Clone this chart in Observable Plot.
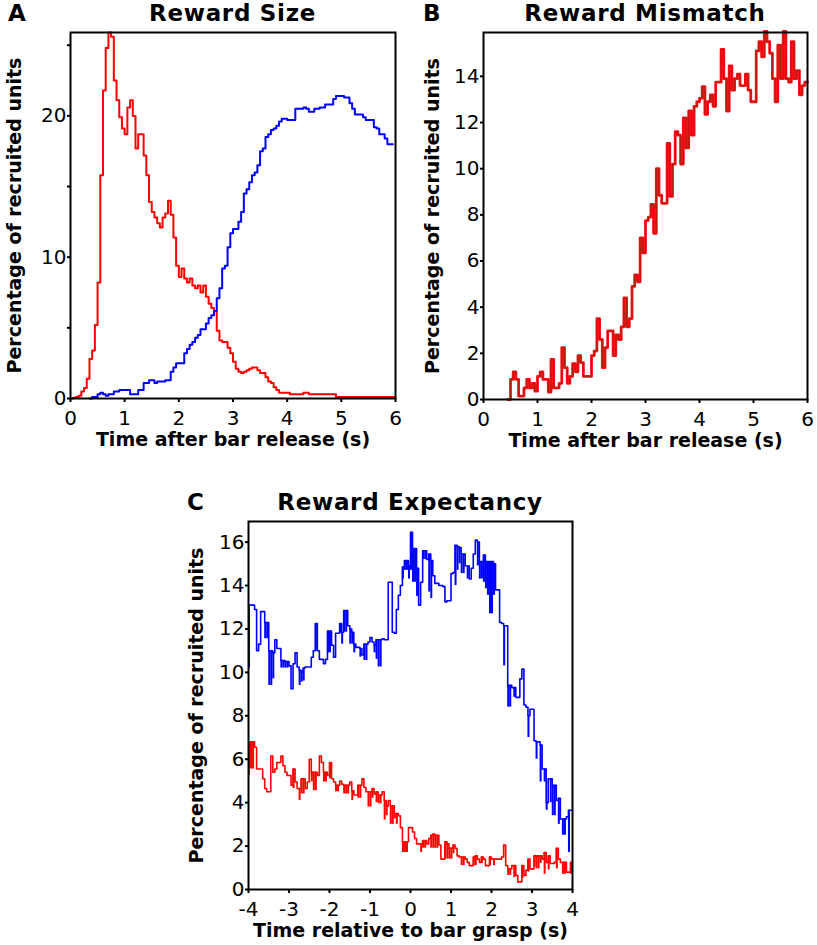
<!DOCTYPE html>
<html>
<head>
<meta charset="utf-8">
<script src="https://cdn.jsdelivr.net/npm/d3@7"></script>
<script src="https://cdn.jsdelivr.net/npm/@observablehq/plot@0.6"></script>
<style>
  html, body { margin: 0; padding: 0; background: #fff; }
  #wrap { position: relative; width: 817px; height: 945px; overflow: hidden; font-family: "DejaVu Sans", sans-serif; }
  .panel { position: absolute; }
  .title { position: absolute; font-weight: bold; font-size: 23px; letter-spacing: 0.7px; line-height: 1; text-align: center; color: #000; white-space: nowrap; }
  .letter { position: absolute; font-weight: bold; font-size: 23px; line-height: 1; color: #000; }
</style>
</head>
<body>
<div id="wrap"></div>
<script>
// ---------------- DATA ----------------
const binWidthAB = 0.05;   // s
const binWidthC = 0.05;    // s

// Panel A: Reward Size (bins from 0 s)
const redA = [0.0,0.05,0.1,0.2,0.5,0.75,1.4,2.8,3.4,5.2,
  8.2,15.8,21.8,24.8,25.9,25.6,22.5,21.1,19.9,19.1,
  18.7,20.6,21.1,20.0,17.7,18.7,18.7,17.2,15.8,13.9,
  13.2,12.8,12.4,12.1,12.8,13.1,14.0,13.0,11.4,9.4,
  8.6,9.2,8.5,8.2,8.5,8.0,7.8,8.0,7.5,8.0,
  7.2,6.7,6.4,6.2,4.8,4.1,4.0,4.0,3.6,3.2,
  2.6,2.1,1.9,1.8,1.9,2.0,2.1,2.2,2.2,2.0,
  1.8,1.8,1.5,1.2,1.1,0.8,0.6,0.4,0.4,0.4,
  0.4,0.3,0.3,0.3,0.3,0.3,0.4,0.4,0.3,0.3,
  0.3,0.3,0.3,0.3,0.3,0.3,0.3,0.3,0.1,0.1,
  0.1,0.1,0.1,0.1,0.1,0.1,0.1,0.1,0.1,0.1,
  0.1,0.1,0.1,0.1,0.1,0.1,0.1,0.1,0.1,0.1];
const blueAStart = 0.35;   // s, first blue bin
const blueA = [0.0,0.1,0.1,
  0.3,0.4,0.3,0.2,0.3,0.3,0.5,0.5,0.6,0.6,
  0.6,0.6,0.3,0.3,0.3,0.6,0.6,1.1,1.1,1.3,
  1.3,1.1,1.2,1.2,1.2,1.3,1.3,1.9,2.2,2.5,
  2.5,2.5,3.2,3.5,3.8,4.0,4.3,4.5,4.9,4.9,
  5.3,5.7,5.9,6.2,7.1,7.8,9.2,9.4,10.7,11.7,
  12.0,12.0,12.5,13.2,14.5,14.8,15.3,15.8,16.0,16.5,
  17.5,17.7,18.5,18.7,19.0,19.1,19.3,19.6,19.8,19.8,
  19.7,19.7,19.7,20.5,20.5,20.5,20.6,20.5,20.3,20.3,
  20.5,20.5,20.6,20.6,20.8,20.8,20.8,21.2,21.4,21.4,
  21.4,21.3,21.3,20.9,20.5,20.1,20.1,20.1,19.9,19.7,
  19.7,19.7,19.2,19.1,18.7,18.7,18.4,18.0,18.0];

// Panel B: Reward Mismatch (bins from 0.45 s)
const redBStart = 0.45;
const redB = [0,
  0.87,1.2,0.87,0.15,0.15,0.5,0.87,0.5,0.7,0.36,
  1.0,1.2,0.87,0.87,0.32,1.74,0.5,0.5,0.7,2.25,
  1.38,0.7,1.0,1.55,1.2,1.9,1.6,1.0,1.0,1.0,
  1.9,2.1,3.5,2.6,1.38,2.25,2.97,2.97,1.9,2.8,
  2.6,3.15,4.4,3.15,3.5,4.9,5.4,5.1,7.0,6.35,
  7.75,7.9,8.45,7.2,10.0,8.85,8.5,8.5,11.1,8.8,
  10.2,11.6,11.45,10.2,12.2,10.9,12.5,11.45,12.7,12.9,
  13.05,13.55,12.35,12.9,13.2,12.7,13.75,13.75,15.17,13.9,
  12.5,14.45,13.4,13.9,14.1,13.6,13.6,14.1,13.4,12.9,
  12.9,15.1,15.5,14.85,15.95,15.5,15.0,13.9,12.9,15.35,
  13.9,15.95,13.9,13.75,15.5,13.9,14.25,13.2,13.6,13.75];

// Panel C: Reward Expectancy (bins from -4 s). *Lo = lower edge where the trace
// oscillates too fast to resolve (null = single level)
const cStart = -4;
const blueC = [13.1,13.1,13.1,12.9,11.0,11.3,12.8,12.8,12.3,12.3,
  11.0,11.0,10.9,11.5,11.1,11.1,10.55,10.55,10.5,10.5,
  10.3,9.25,10.4,10.9,10.25,10.1,10.0,10.2,10.25,10.25,
  10.25,10.7,11.0,12.25,11.0,10.6,10.6,10.4,10.6,11.9,
  11.9,11.25,10.7,11.8,11.8,12.25,11.85,12.85,12.85,12.15,
  12.0,11.85,11.3,11.15,11.15,11.1,10.8,11.3,11.3,11.4,
  11.6,11.4,11.25,11.5,11.5,11.5,11.55,11.5,11.5,14.15,
  14.15,11.85,11.8,12.9,13.55,14.0,14.85,15.15,15.15,14.9,
  16.45,15.7,15.7,14.8,13.1,14.15,15.6,15.6,15.2,15.45,
  15.15,14.45,14.1,14.1,14.0,14.0,13.95,13.25,13.3,13.3,
  14.55,14.6,15.85,15.8,15.75,15.45,15.45,14.9,14.9,14.3,
  14.8,15.45,16.1,16.0,15.1,15.1,15.4,15.1,15.1,15.1,
  15.1,15.0,13.8,13.8,12.3,12.25,12.15,12.15,9.4,9.4,
  9.3,9.3,8.85,8.85,9.7,10.15,8.5,8.4,8.0,8.3,
  8.3,6.85,6.8,6.8,6.65,5.55,5.55,4.0,5.1,5.1,
  4.8,4.8,4.1,4.2,3.25,3.25,3.25,3.35,3.65,3.65];
const blueCLo = [10.2,null,null,null,null,null,null,null,11.55,11.55,
  9.4,9.4,9.7,null,null,null,10.2,10.2,10.2,10.2,
  null,null,null,null,null,9.4,9.55,9.6,null,null,
  null,null,null,11.0,null,null,null,null,null,10.9,
  10.9,null,null,null,null,11.8,11.3,11.85,11.85,null,
  11.3,11.3,10.9,null,null,10.7,null,10.55,10.55,null,
  null,null,10.9,10.6,10.25,10.25,null,null,null,null,
  null,null,null,null,null,null,14.3,14.7,14.7,14.3,
  14.7,14.15,14.15,13.5,null,null,15.2,15.2,null,13.7,
  13.4,null,null,null,null,null,null,null,null,null,
  null,null,14.0,14.7,15.0,14.55,14.55,null,14.3,null,
  null,null,null,14.9,14.3,14.3,14.15,13.85,13.55,12.7,
  12.7,13.55,null,null,null,null,10.3,null,8.4,8.4,
  null,8.85,null,null,null,null,null,null,7.0,null,
  null,null,6.0,null,4.95,null,4.95,3.65,null,4.0,
  3.4,3.4,null,3.0,null,2.5,2.5,null,1.7,null];
const redC = [6.8,6.8,6.8,6.55,5.55,5.55,5.55,5.1,4.65,4.5,
  4.5,6.15,5.4,5.55,5.85,5.85,6.15,5.7,5.4,5.25,
  5.25,4.8,5.55,4.95,4.65,4.65,5.1,5.1,4.65,4.95,
  6.0,5.4,5.4,5.4,5.25,6.15,5.85,5.4,5.4,5.25,
  5.85,5.1,4.95,4.8,4.8,5.0,4.85,4.8,4.8,4.8,
  4.95,4.55,4.35,4.35,4.8,4.8,5.1,4.7,4.5,4.5,
  4.5,4.65,4.4,4.5,4.35,4.35,4.5,4.1,3.85,4.1,
  3.85,3.85,3.5,3.5,3.4,2.85,2.2,2.2,2.2,2.85,
  2.85,2.65,2.35,2.1,2.1,2.1,2.25,2.25,2.1,2.35,
  2.5,2.55,2.5,2.5,2.05,1.4,1.4,2.2,2.1,1.9,
  1.9,2.05,1.9,1.55,1.5,1.5,1.5,1.4,1.25,1.1,
  1.1,1.5,1.55,1.4,1.25,1.5,1.4,1.1,1.1,1.5,
  1.4,1.4,1.4,1.4,1.4,1.5,2.05,1.1,0.95,0.95,
  1.1,1.1,0.65,0.35,0.35,1.1,0.65,0.9,1.4,0.95,
  0.95,1.55,1.55,1.55,1.55,1.4,1.7,1.25,1.55,1.2,
  1.2,1.25,1.9,1.4,1.25,1.25,1.25,0.8,0.8,1.25];
const redCLo = [5.25,5.55,5.55,null,null,null,null,null,null,null,
  null,null,null,null,null,null,null,null,null,null,
  null,null,4.65,null,null,4.1,4.4,4.4,null,null,
  null,4.95,4.55,4.55,null,null,null,4.95,4.95,null,
  5.1,null,null,4.5,4.5,null,null,4.4,4.4,4.4,
  null,4.1,null,null,4.2,4.2,null,null,null,3.8,
  3.8,4.2,null,4.0,3.95,3.95,null,3.2,3.4,null,
  3.0,3.0,3.25,3.0,null,null,1.7,1.7,1.7,null,
  null,null,null,null,null,1.7,1.9,1.9,null,null,
  1.9,1.9,1.9,1.9,null,null,null,1.4,1.4,1.4,
  1.4,1.65,null,null,null,1.1,1.1,null,null,null,
  null,1.1,1.1,null,null,1.2,null,null,null,1.1,
  null,1.1,null,null,null,null,null,null,0.65,0.65,
  null,0.55,null,null,null,0.5,null,null,0.8,null,
  null,1.05,0.95,0.95,1.2,null,0.7,null,0.9,null,
  null,null,0.95,null,null,0.7,0.7,null,null,0.7];

// Axis ticks and labels
const ticksXA = [0,1,2,3,4,5,6];
const ticksYA = [0,5,10,15,20,25];
const labeledYA = [0,10,20];
const ticksXB = [0,1,2,3,4,5,6];
const ticksYB = [0,2,4,6,8,10,12,14];
const ticksXC = [-4,-3,-2,-1,0,1,2,3,4];
const ticksYC = [0,2,4,6,8,10,12,14,16];
const yLabel = "Percentage of recruited units";
const xLabelAB = "Time after bar release (s)";
const xLabelC = "Time relative to bar grasp (s)";
const titles = ["Reward Size", "Reward Mismatch", "Reward Expectancy"];
const letters = ["A", "B", "C"];

// ---------------- HELPERS ----------------
function steps(values, start, w) {
  const out = values.map((v, i) => ({t: start + i * w, v}));
  out.push({t: start + values.length * w, v: values[values.length - 1]});
  return out;
}
function blocks(hi, lo, start, w) {
  const out = [];
  hi.forEach((v, i) => { if (lo[i] != null) out.push({t1: start + i * w, t2: start + (i + 1) * w, lo: lo[i], hi: v}); });
  return out;
}
const FONT = "DejaVu Sans";
function axes(xt, yt, yfmt, xlab, ylabDx) {
  return [
    Plot.frame({stroke: "#000", strokeWidth: 2}),
    Plot.axisX({ticks: xt, tickSize: 4, tickPadding: 8, strokeWidth: 2, fontSize: 20, fontFamily: FONT, tickFormat: d => String(d), label: null}),
    Plot.axisY({ticks: yt, tickSize: 3, tickPadding: 1, strokeWidth: 2, fontSize: 20, fontFamily: FONT, tickFormat: yfmt, label: null}),
    Plot.text([xlab], {text: d => d, frameAnchor: "bottom", textAnchor: "middle", lineAnchor: "top", dy: 34, fontWeight: "bold", fontSize: 19, fontFamily: FONT, fill: "#000"}),
    Plot.text([yLabel], {text: d => d, frameAnchor: "left", textAnchor: "middle", lineAnchor: "middle", rotate: -90, dx: ylabDx, fontWeight: "bold", fontSize: 19, fontFamily: FONT, fill: "#000"})
  ];
}
const style = {fontFamily: FONT, fontSize: "20px", background: "transparent", overflow: "visible", color: "#000"};

// ---------------- CHARTS ----------------
const chartA = Plot.plot({
  width: 410, height: 455, marginLeft: 70, marginRight: 15, marginTop: 32, marginBottom: 57,
  x: {domain: [0, 6]}, y: {domain: [0, 25.9]}, style,
  marks: [
    Plot.lineY(steps(redA, 0, binWidthAB), {x: "t", y: "v", curve: "step-after", stroke: "#ff0000", strokeWidth: 2}),
    Plot.lineY(steps(blueA, blueAStart, binWidthAB), {x: "t", y: "v", curve: "step-after", stroke: "#0000ff", strokeWidth: 2}),
    ...axes(ticksXA, ticksYA, d => labeledYA.includes(d) ? String(d) : "", xLabelAB, -56)
  ]
});
const chartB = Plot.plot({
  width: 407, height: 455, marginLeft: 73, marginRight: 10, marginTop: 32, marginBottom: 56,
  x: {domain: [0, 6]}, y: {domain: [0, 15.9]}, style,
  marks: [
    Plot.lineY(steps(redB, redBStart, binWidthAB), {x: "t", y: "v", curve: "step-after", stroke: "#ff1010", strokeWidth: 2.8}),
    Plot.lineY(steps(redB, redBStart, binWidthAB), {x: "t", y: "v", curve: "step-after", stroke: "#a81c1c", strokeWidth: 0.9}),
    ...axes(ticksXB, ticksYB, d => String(d), xLabelAB, -51)
  ]
});
const chartC = Plot.plot({
  width: 402, height: 475, marginLeft: 68, marginRight: 10, marginTop: 51, marginBottom: 56,
  x: {domain: [-4, 4]}, y: {domain: [0, 16.95]}, style,
  marks: [
    Plot.rect(blocks(blueC, blueCLo, cStart, binWidthC), {x1: "t1", x2: "t2", y1: "lo", y2: "hi", fill: "#0000ff"}),
    Plot.lineY(steps(blueC, cStart, binWidthC), {x: "t", y: "v", curve: "step-after", stroke: "#0000ff", strokeWidth: 1.6}),
    Plot.rect(blocks(redC, redCLo, cStart, binWidthC), {x1: "t1", x2: "t2", y1: "lo", y2: "hi", fill: "#ff0000"}),
    Plot.lineY(steps(redC, cStart, binWidthC), {x: "t", y: "v", curve: "step-after", stroke: "#ff0000", strokeWidth: 1.6}),
    ...axes(ticksXC, ticksYC, d => String(d), xLabelC, -52)
  ]
});

// ---------------- LAYOUT ----------------
const wrap = document.getElementById("wrap");
function place(node, left, top) {
  const d = document.createElement("div");
  d.className = "panel"; d.style.left = left + "px"; d.style.top = top + "px";
  d.appendChild(node); wrap.appendChild(d);
}
place(chartA, 0, 0);
place(chartB, 410, 0);
place(chartC, 180, 470);
function label(cls, text, left, top, width) {
  const d = document.createElement("div");
  d.className = cls; d.textContent = text;
  d.style.left = left + "px"; d.style.top = top + "px";
  if (width) d.style.width = width + "px";
  wrap.appendChild(d);
}
label("title", titles[0], 70, 2, 325);
label("title", titles[1], 483, 2, 324);
label("title", titles[2], 248, 491, 324);
label("letter", letters[0], 8, 2);
label("letter", letters[1], 423, 2);
label("letter", letters[2], 187, 491);
</script>
</body>
</html>
